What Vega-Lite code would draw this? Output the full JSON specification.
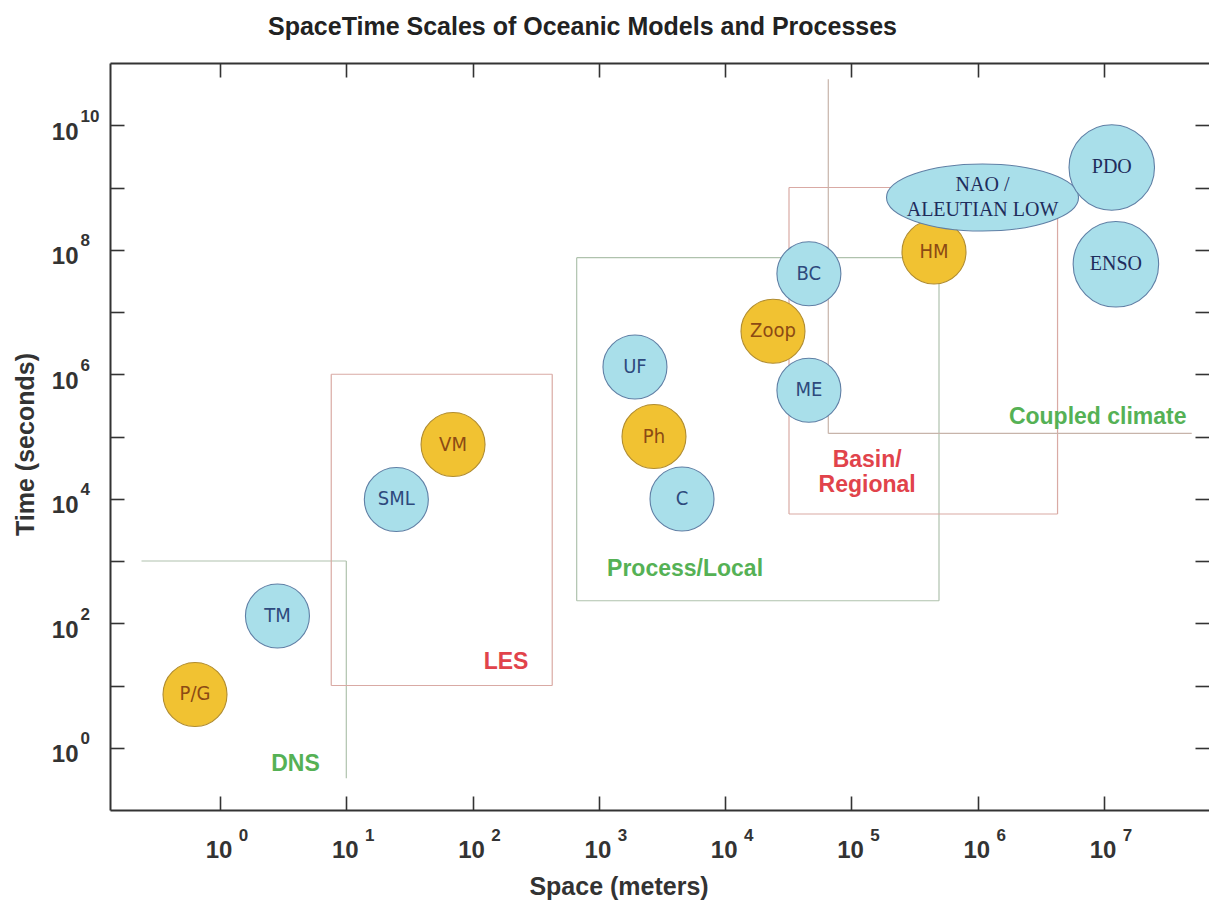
{
  "$schema": "https://vega.github.io/schema/vega-lite/v6.json",
  "width": 1099,
  "height": 747,
  "autosize": {"type": "none"},
  "padding": {"left": 110, "top": 63, "right": 0, "bottom": 91},
  "background": "white",
  "title": {
    "text": "SpaceTime Scales of Oceanic Models and Processes",
    "anchor": "start",
    "frame": "group",
    "dx": 158,
    "offset": 2,
    "baseline": "alphabetic",
    "font": "Liberation Sans",
    "fontSize": 25,
    "fontWeight": "bold",
    "color": "#222222"
  },
  "config": {
    "view": {"stroke": null},
    "axis": {
      "grid": false,
      "domainColor": "#333333",
      "domainWidth": 2,
      "tickColor": "#333333",
      "tickWidth": 1.6,
      "tickSize": -14,
      "labelFont": "Liberation Sans",
      "labelFontWeight": "bold",
      "labelFontSize": 24,
      "labelColor": "#333333",
      "labelOverlap": false,
      "labelFlush": false,
      "titleFont": "Liberation Sans",
      "titleFontSize": 25,
      "titleFontWeight": "bold",
      "titleColor": "#333333"
    }
  },
  "datasets": {
    "bubbles": [
      {"name": "P/G", "space_m": 0.634, "time_s": 7.17, "category": "biological", "group": "process"},
      {"name": "TM", "space_m": 2.85, "time_s": 131, "category": "physical", "group": "process"},
      {"name": "SML", "space_m": 24.9, "time_s": 9730, "category": "physical", "group": "process"},
      {"name": "VM", "space_m": 70, "time_s": 74300, "category": "biological", "group": "process"},
      {"name": "UF", "space_m": 1930, "time_s": 1310000, "category": "physical", "group": "process"},
      {"name": "Ph", "space_m": 2730, "time_s": 100000, "category": "biological", "group": "process"},
      {"name": "C", "space_m": 4550, "time_s": 9910, "category": "physical", "group": "process"},
      {"name": "Zoop", "space_m": 23900, "time_s": 4900000, "category": "biological", "group": "process"},
      {"name": "BC", "space_m": 46000, "time_s": 41200000, "category": "physical", "group": "process"},
      {"name": "ME", "space_m": 46000, "time_s": 552000, "category": "physical", "group": "process"},
      {"name": "HM", "space_m": 450000, "time_s": 92000000, "category": "biological", "group": "process"},
      {"name": "NAO /\nALEUTIAN LOW", "space_m": 1090000, "time_s": 690000000, "category": "physical", "group": "climate pattern"},
      {"name": "PDO", "space_m": 11500000, "time_s": 2100000000, "category": "physical", "group": "climate mode"},
      {"name": "ENSO", "space_m": 12400000, "time_s": 58400000, "category": "physical", "group": "climate mode"}
    ],
    "segments": [
      {"region": "DNS", "tier": 1, "x1": 0.239, "x2": 10, "y1": 1000, "y2": 1000},
      {"region": "DNS", "tier": 1, "x1": 10, "x2": 10, "y1": 0.323, "y2": 1000},
      {"region": "LES", "tier": 2, "x1": 7.6, "x2": 427, "y1": 1000000, "y2": 1000000},
      {"region": "LES", "tier": 2, "x1": 7.6, "x2": 427, "y1": 10, "y2": 10},
      {"region": "LES", "tier": 2, "x1": 7.6, "x2": 7.6, "y1": 10, "y2": 1000000},
      {"region": "LES", "tier": 2, "x1": 427, "x2": 427, "y1": 10, "y2": 1000000},
      {"region": "Process/Local", "tier": 3, "x1": 667, "x2": 493000, "y1": 74500000, "y2": 74500000},
      {"region": "Process/Local", "tier": 3, "x1": 667, "x2": 493000, "y1": 230, "y2": 230},
      {"region": "Process/Local", "tier": 3, "x1": 667, "x2": 667, "y1": 230, "y2": 74500000},
      {"region": "Process/Local", "tier": 3, "x1": 493000, "x2": 493000, "y1": 230, "y2": 74500000},
      {"region": "Basin/Regional", "tier": 4, "x1": 32000, "x2": 4280000, "y1": 1000000000, "y2": 1000000000},
      {"region": "Basin/Regional", "tier": 4, "x1": 32000, "x2": 4280000, "y1": 5690, "y2": 5690},
      {"region": "Basin/Regional", "tier": 4, "x1": 32000, "x2": 32000, "y1": 5690, "y2": 1000000000},
      {"region": "Basin/Regional", "tier": 4, "x1": 4280000, "x2": 4280000, "y1": 5690, "y2": 1000000000},
      {"region": "Coupled climate", "tier": 5, "x1": 65500, "x2": 65500, "y1": 112000, "y2": 55000000000},
      {"region": "Coupled climate", "tier": 5, "x1": 65500, "x2": 49400000, "y1": 112000, "y2": 112000}
    ],
    "regionLabels": [
      {"label": "DNS", "space_m": 3.96, "time_s": 0.548, "tier": 1},
      {"label": "LES", "space_m": 184, "time_s": 23.9, "tier": 2},
      {"label": "Process/Local", "space_m": 4808, "time_s": 743, "tier": 3},
      {"label": "Basin/\nRegional", "space_m": 133000, "time_s": 42700, "tier": 4},
      {"label": "Coupled climate", "space_m": 8900000, "time_s": 208000, "tier": 5}
    ]
  },
  "layer": [
    {
      "data": {"name": "segments"},
      "mark": {"type": "rule", "strokeWidth": 1.2},
      "encoding": {
        "x": {
          "field": "x1", "type": "quantitative",
          "scale": {"type": "log", "domain": [0.1346, 67700000], "nice": false, "zero": false},
          "axis": {
            "orient": "bottom",
            "values": [1, 10, 100, 1000, 10000, 100000, 1000000, 10000000],
            "labelExpr": "'10'",
            "labelPadding": 42,
            "labelOffset": -1.5,
            "labelBaseline": "top",
            "labelAlign": "center",
            "title": "Space (meters)",
            "titleX": 508.5,
            "titleY": 84,
            "titleAlign": "center",
            "titleBaseline": "alphabetic"
          }
        },
        "x2": {"field": "x2"},
        "y": {
          "field": "y1", "type": "quantitative",
          "scale": {"type": "log", "domain": [0.1, 100000000000], "nice": false, "zero": false},
          "axis": {
            "orient": "left",
            "values": [1, 10, 100, 1000, 10000, 100000, 1000000, 10000000, 100000000, 1000000000, 10000000000],
            "labelExpr": "round(log(datum.value)/LN10) % 2 != 0 ? '' : '10'",
            "labelPadding": 46,
            "labelOffset": 7,
            "labelAlign": "right",
            "labelBaseline": "middle",
            "title": "Time (seconds)",
            "titleAngle": 270,
            "titleX": -85,
            "titleY": 381,
            "titleAlign": "center",
            "titleBaseline": "middle"
          }
        },
        "y2": {"field": "y2"},
        "color": {
          "condition": [
            {"test": "datum.tier == 5", "value": "#c7b4aa"},
            {"test": "datum.tier % 2 == 0", "value": "#d9aaa4"}
          ],
          "value": "#afc2ad"
        }
      }
    },
    {
      "data": {"name": "bubbles"},
      "transform": [{"filter": "datum.group == 'process'"}],
      "mark": {"type": "point", "shape": "circle", "filled": true, "size": 4096, "strokeWidth": 1.1, "opacity": 1},
      "encoding": {
        "x": {
          "field": "space_m", "type": "quantitative",
          "scale": {"type": "log", "domain": [0.1346, 67700000], "nice": false, "zero": false},
          "axis": {
            "orient": "top",
            "values": [1, 10, 100, 1000, 10000, 100000, 1000000, 10000000],
            "labels": false,
            "title": null
          }
        },
        "y": {
          "field": "time_s", "type": "quantitative",
          "scale": {"type": "log", "domain": [0.1, 100000000000], "nice": false, "zero": false},
          "axis": {
            "orient": "right",
            "values": [1, 10, 100, 1000, 10000, 100000, 1000000, 10000000, 100000000, 1000000000, 10000000000],
            "labels": false,
            "domain": false,
            "title": null
          }
        },
        "fill": {
          "condition": {"test": "datum.category == 'biological'", "value": "#f1c232"},
          "value": "#a9dfea"
        },
        "stroke": {
          "condition": {"test": "datum.category == 'biological'", "value": "#b08c30"},
          "value": "#5f7fa5"
        }
      }
    },
    {
      "data": {"name": "bubbles"},
      "transform": [{"filter": "datum.group == 'climate pattern'"}],
      "mark": {"type": "point", "shape": "M -1 0 A 1 0.349 0 1 1 1 0 A 1 0.349 0 1 1 -1 0 Z", "filled": true, "size": 36864, "strokeWidth": 1.1, "opacity": 1, "fill": "#a9dfea", "stroke": "#5f7fa5"},
      "encoding": {
        "x": {
          "field": "space_m", "type": "quantitative",
          "scale": {"type": "log", "domain": [0.1346, 67700000], "nice": false, "zero": false},
          "axis": {
            "orient": "bottom",
            "values": [1, 10, 100, 1000, 10000, 100000, 1000000, 10000000],
            "labelExpr": "'' + round(log(datum.value)/LN10)",
            "labelFontSize": 17,
            "labelPadding": 17,
            "labelOffset": 23,
            "labelBaseline": "top",
            "labelAlign": "center",
            "ticks": false,
            "tickSize": 0,
            "domain": false,
            "title": null
          }
        },
        "y": {
          "field": "time_s", "type": "quantitative",
          "scale": {"type": "log", "domain": [0.1, 100000000000], "nice": false, "zero": false},
          "axis": {
            "orient": "left",
            "values": [1, 10, 100, 1000, 10000, 100000, 1000000, 10000000, 100000000, 1000000000, 10000000000],
            "labelExpr": "round(log(datum.value)/LN10) % 2 != 0 ? '' : '' + round(log(datum.value)/LN10)",
            "labelFontSize": 17,
            "labelPadding": 30,
            "labelOffset": -9,
            "labelAlign": "left",
            "labelBaseline": "middle",
            "ticks": false,
            "tickSize": 0,
            "domain": false,
            "title": null
          }
        }
      }
    },
    {
      "data": {"name": "bubbles"},
      "transform": [{"filter": "datum.group == 'climate mode'"}],
      "mark": {"type": "point", "shape": "circle", "filled": true, "size": 7310, "strokeWidth": 1.1, "opacity": 1, "fill": "#a9dfea", "stroke": "#5f7fa5"},
      "encoding": {
        "x": {"field": "space_m", "type": "quantitative", "scale": {"type": "log", "domain": [0.1346, 67700000], "nice": false, "zero": false}, "axis": null},
        "y": {"field": "time_s", "type": "quantitative", "scale": {"type": "log", "domain": [0.1, 100000000000], "nice": false, "zero": false}, "axis": null}
      }
    },
    {
      "data": {"name": "bubbles"},
      "transform": [{"filter": "datum.group == 'process'"}],
      "mark": {"type": "text", "font": "DejaVu Sans Condensed, Liberation Sans Narrow, Liberation Sans", "fontSize": 20, "align": "center", "baseline": "middle"},
      "encoding": {
        "x": {"field": "space_m", "type": "quantitative", "scale": {"type": "log", "domain": [0.1346, 67700000], "nice": false, "zero": false}, "axis": null},
        "y": {"field": "time_s", "type": "quantitative", "scale": {"type": "log", "domain": [0.1, 100000000000], "nice": false, "zero": false}, "axis": null},
        "text": {"field": "name"},
        "color": {
          "condition": {"test": "datum.category == 'biological'", "value": "#8c4a14"},
          "value": "#2e4a7d"
        }
      }
    },
    {
      "data": {"name": "bubbles"},
      "transform": [{"filter": "datum.group == 'climate mode'"}],
      "mark": {"type": "text", "font": "Liberation Serif", "fontSize": 20, "align": "center", "baseline": "middle", "color": "#1f2d5c"},
      "encoding": {
        "x": {"field": "space_m", "type": "quantitative", "scale": {"type": "log", "domain": [0.1346, 67700000], "nice": false, "zero": false}, "axis": null},
        "y": {"field": "time_s", "type": "quantitative", "scale": {"type": "log", "domain": [0.1, 100000000000], "nice": false, "zero": false}, "axis": null},
        "text": {"field": "name"}
      }
    },
    {
      "data": {"name": "bubbles"},
      "transform": [{"filter": "datum.group == 'climate pattern'"}],
      "mark": {"type": "text", "font": "Liberation Serif", "fontSize": 20, "align": "center", "baseline": "middle", "lineBreak": "\n", "lineHeight": 25, "dy": -13, "color": "#1f2d5c"},
      "encoding": {
        "x": {"field": "space_m", "type": "quantitative", "scale": {"type": "log", "domain": [0.1346, 67700000], "nice": false, "zero": false}, "axis": null},
        "y": {"field": "time_s", "type": "quantitative", "scale": {"type": "log", "domain": [0.1, 100000000000], "nice": false, "zero": false}, "axis": null},
        "text": {"field": "name"}
      }
    },
    {
      "data": {"name": "regionLabels"},
      "mark": {"type": "text", "font": "Liberation Sans", "fontWeight": "bold", "fontSize": 23, "align": "center", "baseline": "middle", "lineBreak": "\n", "lineHeight": 25},
      "encoding": {
        "x": {"field": "space_m", "type": "quantitative", "scale": {"type": "log", "domain": [0.1346, 67700000], "nice": false, "zero": false}, "axis": null},
        "y": {"field": "time_s", "type": "quantitative", "scale": {"type": "log", "domain": [0.1, 100000000000], "nice": false, "zero": false}, "axis": null},
        "text": {"field": "label"},
        "color": {
          "condition": {"test": "datum.tier % 2 == 0", "value": "#e1434b"},
          "value": "#55b155"
        }
      }
    }
  ],
  "resolve": {"axis": {"x": "independent", "y": "independent"}}
}
